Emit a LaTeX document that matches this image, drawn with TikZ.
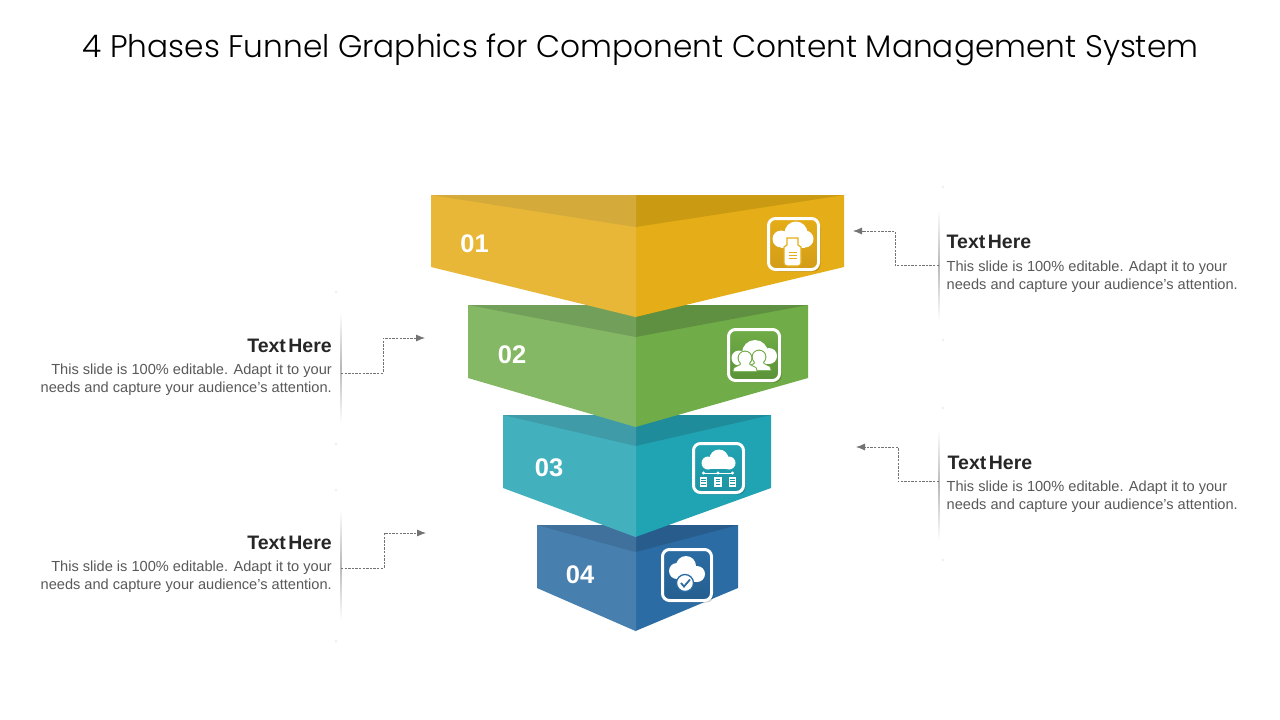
\documentclass[tikz,border=0pt]{standalone}
\usepackage{fontspec}
\setmainfont{Liberation Sans}
\newfontfamily\titlefont{Poppins Light}
\usetikzlibrary{arrows.meta}
\definecolor{yl}{HTML}{E8B738}\definecolor{yr}{HTML}{E5AD17}\definecolor{ytl}{HTML}{D4AA3A}\definecolor{ytr}{HTML}{C99A12}\definecolor{yi}{HTML}{D29C18}
\definecolor{gl}{HTML}{85B865}\definecolor{gr}{HTML}{70AC47}\definecolor{gtl}{HTML}{72A05A}\definecolor{gtr}{HTML}{5F8F40}\definecolor{gi}{HTML}{5A9238}
\definecolor{tl}{HTML}{43B1BD}\definecolor{tr}{HTML}{20A4B3}\definecolor{ttl}{HTML}{3F9BA8}\definecolor{ttr}{HTML}{1F8C9C}\definecolor{ti}{HTML}{1E94A3}
\definecolor{bl}{HTML}{477FAE}\definecolor{br}{HTML}{2A6CA3}\definecolor{btl}{HTML}{40709C}\definecolor{btr}{HTML}{275C8C}\definecolor{bi}{HTML}{265F90}
\tikzset{
 num/.style={font=\bfseries\fontsize{25.5}{26}\selectfont,text=white,inner sep=0},
 head/.style={font=\bfseries\fontsize{19.5}{20}\selectfont,text=black!85,inner sep=0},
 body/.style={font=\fontsize{14.6}{18}\selectfont,text=black!65,inner sep=0},
 link/.style={draw=black!55,line width=0.8pt,dash pattern=on 2.4pt off 1.2pt,-{Latex[length=9pt,width=7pt]}},
 rulebar/.style={top color=white,bottom color=white,middle color=black!28},
 speck/.style={fill=black!6},
 iconbox/.style={draw=white,line width=3pt,rounded corners=7pt},
}
% left, right, top, inner, side, tip, colour prefix
\newcommand\segment[7]{%
 \fill[#7r] (#2,#3) -- (635.5,#3) -- (635.5,#6) -- (#2,#5) -- cycle;
 \fill[#7l] (#1,#3) -- (636,#3) -- (636,#6) -- (635.5,#6) -- (#1,#5) -- cycle;
 \fill[#7tr] (#2,#3) -- (635.5,#3) -- (635.5,#4) -- cycle;
 \fill[#7tl] (#1,#3) -- (636,#3) -- (636,#4) -- (635.5,#4) -- cycle;
}
\newcommand\icobox[5]{%
 \fill[black,opacity=.18,rounded corners=7pt] (#1+2,#2+2) rectangle (#3+2,#4+2);
 \shade[top color=#5r,bottom color=#5i,rounded corners=7pt] (#1,#2) rectangle (#3,#4);
 \draw[iconbox] (#1,#2) rectangle (#3,#4);
}
% a person: head centre x, y, then the outline colour
\newcommand\personshape[3]{%
 \path[draw=#3,fill=#3,line width=2.2pt,line join=round] (#1,#2) circle (6.3);
 \path[draw=#3,fill=#3,line width=2.2pt,line join=round] (#1-4,#2+5) -- (#1+4,#2+5) -- (#1+4.5,#2+7) -- (#1+10.5,#2+10) -- (#1+11.5,#2+13) -- (#1-11.5,#2+13) -- (#1-10.5,#2+10) -- (#1-4.5,#2+7) -- cycle;
 \fill[white] (#1,#2) circle (6.3);
 \fill[white] (#1-4,#2+5) -- (#1+4,#2+5) -- (#1+4.5,#2+7) -- (#1+10.5,#2+10) -- (#1+11.5,#2+13) -- (#1-11.5,#2+13) -- (#1-10.5,#2+10) -- (#1-4.5,#2+7) -- cycle;
}
\begin{document}
\begin{tikzpicture}[x=1pt,y=-1pt]
\useasboundingbox (0,0) rectangle (1280,720);
\fill[white] (0,0) rectangle (1280,720);
\node[font=\titlefont\fontsize{31.2}{32}\selectfont,text=black,anchor=base,inner sep=0] (title) at (640.5,57) {4 Phases Funnel Graphics for Component Content Management System};

% funnel, bottom up so each tip overlaps the next
\segment{537}{738}{525}{552}{588}{631}{b}
\segment{503}{771}{415}{446}{488}{537}{t}
\segment{468}{808}{305}{337}{378}{427}{g}
\segment{431}{844}{195}{227}{267}{317}{y}

\node[num] (n1) at (474.5,243.5) {01};
\node[num] (n2) at (512,354.5) {02};
\node[num] (n3) at (549,467.5) {03};
\node[num] (n4) at (580,574.5) {04};

% icon 1: cloud with a plug
\icobox{768.5}{218.5}{818.5}{269.5}{y}
\fill[white] (796,233) circle (11.5);
\fill[white] (781,239) circle (8.5);
\fill[white] (805,239) circle (8.5);
\fill[white] (781,236) rectangle (805,247.5);
\fill[white,draw=yr,line width=1.2pt] (787,238) -- (798,238) -- (798,245) -- (801,247) -- (801,263) arc[start angle=0,end angle=90,radius=3] -- (787,266) arc[start angle=90,end angle=180,radius=3] -- (784,247) -- (787,245) -- cycle;
\draw[yr,line width=1pt] (788.5,252.5) -- (797,252.5) (788.5,255.5) -- (797,255.5) (788.5,258.5) -- (797,258.5);

% icon 2: cloud with two people
\icobox{728.5}{329.5}{779.5}{380.5}{g}
\fill[white] (755,353) circle (13);
\fill[white] (739,358) circle (7.5);
\fill[white] (769,356) circle (8);
\fill[white] (739,354) rectangle (769,364);
\personshape{759}{357}{gr}
\personshape{745}{358}{gr}

% icon 3: cloud with three servers
\icobox{693.5}{443.5}{743.5}{492.5}{t}
\fill[white] (719,459) circle (9.5);
\fill[white] (708,463) circle (6.5);
\fill[white] (729,463) circle (6.5);
\fill[white] (708,460) rectangle (729,469);
\draw[white,line width=0.8pt] (703.5,473) -- (732.5,473);
\foreach \sx in {703.5,718,732.5}{
 \fill[white] (\sx,473) circle (1.7);
 \fill[white] (\sx-3.7,477) rectangle (\sx+3.7,486.5);
 \draw[ti,line width=0.7pt] (\sx-2.2,479.5) -- (\sx+2.2,479.5) (\sx-2.2,481.8) -- (\sx+2.2,481.8) (\sx-2.2,484.1) -- (\sx+2.2,484.1);
}

% icon 4: cloud with a check mark
\icobox{662.5}{549.5}{711.5}{600.5}{b}
\fill[white] (686,566) circle (10);
\fill[white] (677,571) circle (8);
\fill[white] (697,574) circle (8);
\fill[white] (677,571) rectangle (697,582);
\fill[white,draw=br,line width=1.3pt] (685,583) circle (8.5);
\draw[br,line width=1.8pt] (681,583) -- (684,586.5) -- (690,579.5);

% side texts
\node[head,anchor=base west] (h1) at (946.5,248) {{\spaceskip=2.5pt Text Here}};
\node[body,anchor=base west,align=left] (b1) at (946.5,289) {This slide is 100\% editable. Adapt it to your\\needs and capture your audience's attention.};
\node[head,anchor=base west] (h3) at (947.5,469) {{\spaceskip=2.5pt Text Here}};
\node[body,anchor=base west,align=left] (b3) at (946.5,509) {This slide is 100\% editable. Adapt it to your\\needs and capture your audience's attention.};
\node[head,anchor=base east] (h2) at (332,352) {{\spaceskip=2.5pt Text Here}};
\node[body,anchor=base east,align=right] (b2) at (332,392) {This slide is 100\% editable. Adapt it to your\\needs and capture your audience's attention.};
\node[head,anchor=base east] (h4) at (332,549) {{\spaceskip=2.5pt Text Here}};
\node[body,anchor=base east,align=right] (b4) at (332,589) {This slide is 100\% editable. Adapt it to your\\needs and capture your audience's attention.};

% fading rules
\shade[rulebar] (938.2,210) rectangle (939.4,320);
\shade[rulebar] (938.2,430) rectangle (939.4,540);
\shade[rulebar] (340.4,312) rectangle (341.6,423);
\shade[rulebar] (340.4,510) rectangle (341.6,620);
\fill[speck] (943,187) circle (1.5) (943,340) circle (1.5) (943,408) circle (1.5) (943,560) circle (1.5) (336,292) circle (1.5) (336,444) circle (1.5) (336,490) circle (1.5) (336,641) circle (1.5);

% connectors
\coordinate (r1) at (939,265.5); \coordinate (t1) at (853,231);
\coordinate (r2) at (341,373); \coordinate (t2) at (425,338);
\coordinate (r3) at (939,481.5); \coordinate (t3) at (856,447);
\coordinate (r4) at (341,568); \coordinate (t4) at (426,533);
\draw[link] (r1) -| (895,231) -- (t1);
\draw[link] (r2) -| (383,338) -- (t2);
\draw[link] (r3) -| (898,447) -- (t3);
\draw[link] (r4) -| (384,533) -- (t4);
\end{tikzpicture}
\end{document}
